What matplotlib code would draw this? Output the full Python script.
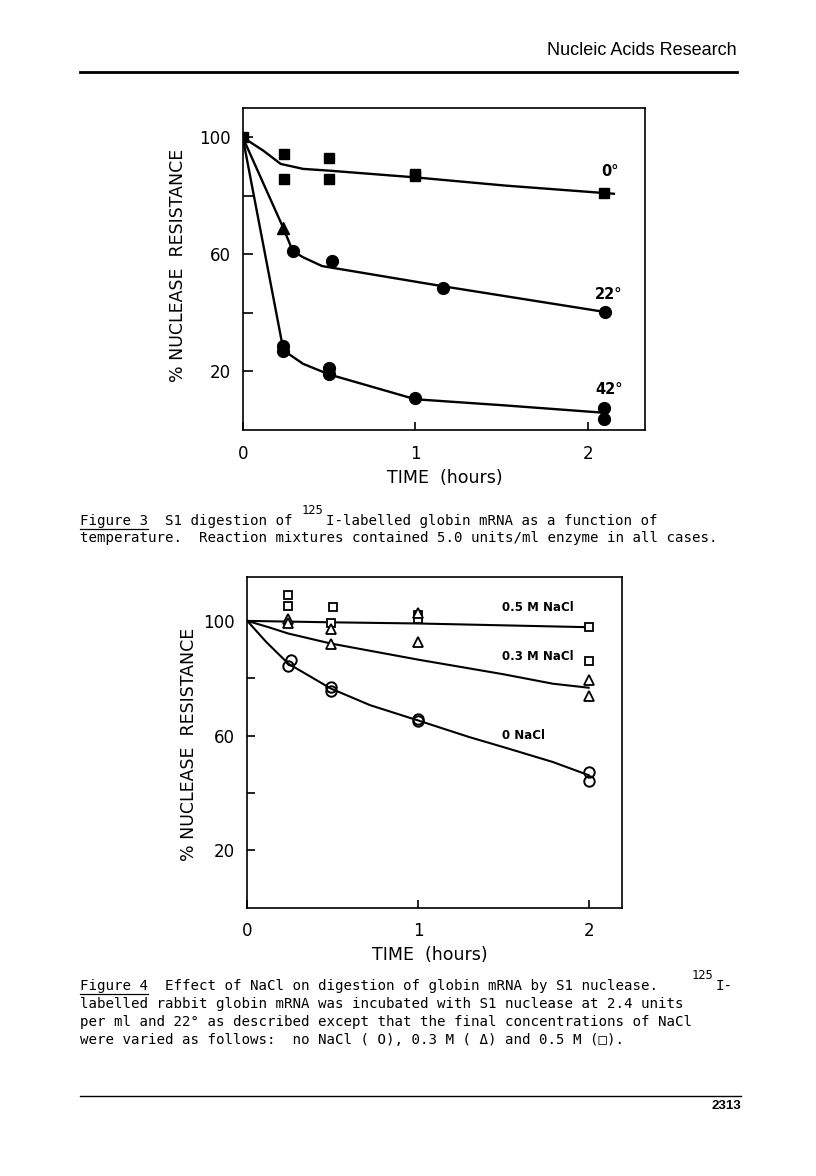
import matplotlib
matplotlib.use("Agg")
import matplotlib.pyplot as plt
from matplotlib.lines import Line2D

W, H = 816, 1176

# ---------------- Figure 3 data (S1 digestion vs temperature) ----------------
f3_0_x = [0, 0.24, 0.24, 0.50, 0.50, 1.00, 1.00, 2.09]
f3_0_y = [100, 94.3, 85.6, 92.8, 85.6, 86.8, 87.4, 81.0]
f3_0_fit_x = [0, 0.12, 0.22, 0.35, 0.50, 1.00, 1.52, 2.15]
f3_0_fit_y = [100, 95.4, 90.9, 89.2, 88.6, 86.3, 83.5, 80.7]

f3_22_tri_x = [0.236]
f3_22_tri_y = [68.9]
f3_22_x = [0.29, 0.52, 1.16, 2.10]
f3_22_y = [61.3, 57.8, 48.6, 40.3]
f3_22_fit_x = [0, 0.236, 0.29, 0.35, 0.46, 1.16, 2.10]
f3_22_fit_y = [100, 68.9, 61.1, 59.0, 56.0, 49.1, 40.3]

f3_42_x = [0.236, 0.236, 0.50, 0.50, 1.00, 2.09, 2.09]
f3_42_y = [28.7, 27.0, 21.3, 19.0, 10.9, 7.5, 3.6]
f3_42_fit_x = [0, 0.236, 0.35, 0.50, 1.00, 1.52, 2.09]
f3_42_fit_y = [100, 27.2, 22.6, 19.0, 10.5, 8.4, 5.9]

f3_labels = ["0°", "22°", "42°"]
f3_label_x = [2.13, 2.12, 2.12]
f3_label_y = [88.4, 46.3, 14.0]

# ---------------- Figure 4 data (effect of NaCl) ----------------
f4_sq_x = [0.24, 0.24, 0.50, 0.49, 1.00, 1.00, 2.00, 2.00]
f4_sq_y = [109.2, 105.2, 104.9, 99.3, 102.0, 100.5, 97.9, 86.0]
f4_tri_x = [0.24, 0.24, 0.49, 0.49, 1.00, 1.00, 2.00, 2.00]
f4_tri_y = [100.6, 99.3, 97.3, 91.9, 102.6, 92.7, 79.5, 73.8]
f4_circ_x = [0.255, 0.24, 0.49, 0.49, 1.00, 1.00, 2.00, 2.00]
f4_circ_y = [86.3, 84.2, 77.0, 75.6, 65.9, 65.1, 47.3, 44.2]

f4_05_fit_x = [0, 0.50, 1.00, 2.00]
f4_05_fit_y = [100, 99.5, 99.1, 97.8]
f4_03_fit_x = [0, 0.13, 0.24, 0.49, 1.00, 1.50, 1.79, 2.00]
f4_03_fit_y = [100, 97.7, 95.6, 92.1, 86.5, 81.4, 78.1, 76.7]
f4_0_fit_x = [0, 0.11, 0.24, 0.49, 0.72, 1.00, 1.30, 1.50, 1.79, 2.00]
f4_0_fit_y = [100, 92.7, 85.1, 76.4, 70.6, 65.3, 59.5, 56.0, 50.8, 46.2]

f4_labels = ["0.5 M NaCl", "0.3 M NaCl", "0 NaCl"]
f4_label_x = [1.49, 1.49, 1.49]
f4_label_y = [104.5, 87.7, 59.9]

yticks = [20, 40, 60, 80, 100]
ytick_labels = ["20", "", "60", "", "100"]
xticks = [0, 1, 2]
xtick_labels = ["0", "1", "2"]


def fx(x):
    return x / W


def fy(y):
    return 1 - y / H


fig = plt.figure(figsize=(W / 100, H / 100), dpi=100)
fig.patch.set_facecolor("white")


def style_axes(ax, xlim, ylim, tlen, ypad, xpad):
    ax.set_xlim(*xlim)
    ax.set_ylim(*ylim)
    for s in ax.spines.values():
        s.set_linewidth(1.2)
    ax.set_yticks(yticks)
    ax.set_yticklabels(ytick_labels)
    ax.set_xticks(xticks)
    ax.set_xticklabels(xtick_labels)
    ax.tick_params(axis="y", direction="in", length=tlen, width=1.2,
                   labelsize=12, pad=ypad)
    ax.tick_params(axis="x", direction="in", length=6, width=1.2,
                   labelsize=12, pad=xpad)


# ---------------- Figure 3 axes ----------------
ax3 = fig.add_axes([fx(242.7), fy(430), (645 - 242.7) / W, (430 - 108) / H])
style_axes(ax3, (0, 2.33), (0, 110), 7, 8.3, 11.0)

lw3 = 1.7
ax3.plot(f3_0_fit_x, f3_0_fit_y, color="black", lw=lw3, zorder=2)
ax3.plot(f3_22_fit_x, f3_22_fit_y, color="black", lw=lw3, zorder=2)
ax3.plot(f3_42_fit_x, f3_42_fit_y, color="black", lw=lw3, zorder=2)
ax3.plot(f3_0_x, f3_0_y, "s", color="black", ms=7.5, zorder=3)
ax3.plot(f3_22_tri_x, f3_22_tri_y, "^", color="black", ms=8, zorder=3)
ax3.plot(f3_22_x, f3_22_y, "o", color="black", ms=8.5, zorder=3)
ax3.plot(f3_42_x, f3_42_y, "o", color="black", ms=8.5, zorder=3)
for t, x, y in zip(f3_labels, f3_label_x, f3_label_y):
    ax3.text(x, y, t, ha="center", va="center", fontsize=10.5, fontweight="bold")

ax3.set_xlabel("TIME  (hours)", fontsize=12.5, va="center")
ax3.xaxis.set_label_coords((445 - 242.7) / 402.3, (430 - 478) / 322)
ax3.set_ylabel("% NUCLEASE  RESISTANCE", fontsize=12.5, va="center")
ax3.yaxis.set_label_coords((178 - 242.7) / 402.3, (430 - 265.5) / 322)

# ---------------- Figure 4 axes ----------------
ax4 = fig.add_axes([fx(247.3), fy(907.7), 375 / W, 330.4 / H])
style_axes(ax4, (0, 2.197), (0, 115.2), 6, 9.0, 10.0)

lw4 = 1.5
ax4.plot(f4_05_fit_x, f4_05_fit_y, color="black", lw=lw4, zorder=2)
ax4.plot(f4_03_fit_x, f4_03_fit_y, color="black", lw=lw4, zorder=2)
ax4.plot(f4_0_fit_x, f4_0_fit_y, color="black", lw=lw4, zorder=2)
ax4.plot(f4_sq_x, f4_sq_y, "s", mfc="white", mec="black", mew=1.3, ms=6, zorder=3)
ax4.plot(f4_tri_x, f4_tri_y, "^", mfc="white", mec="black", mew=1.3, ms=6.5, zorder=3)
ax4.plot(f4_circ_x, f4_circ_y, "o", mfc="none", mec="black", mew=1.4, ms=7.5, zorder=3)
for t, x, y in zip(f4_labels, f4_label_x, f4_label_y):
    ax4.text(x, y, t, ha="left", va="center", fontsize=8.5, fontweight="bold")

ax4.set_xlabel("TIME  (hours)", fontsize=12.5, va="center")
ax4.xaxis.set_label_coords((430 - 247.3) / 375, (907.7 - 955) / 330.4)
ax4.set_ylabel("% NUCLEASE  RESISTANCE", fontsize=12.5, va="center")
ax4.yaxis.set_label_coords((189 - 247.3) / 375, (907.7 - 744) / 330.4)

# ---------------- Page furniture ----------------
fig.text(fx(737), fy(55), "Nucleic Acids Research", ha="right", va="baseline",
         fontsize=13, family="Liberation Sans")
fig.add_artist(Line2D([fx(80), fx(737)], [fy(71.7), fy(71.7)], color="black",
                      lw=2.0, transform=fig.transFigure))
fig.add_artist(Line2D([fx(80), fx(741)], [fy(1095.7), fy(1095.7)], color="black",
                      lw=1.0, transform=fig.transFigure))
fig.text(fx(741), fy(1109), "2313", ha="right", va="baseline", fontsize=9.5,
         fontweight="bold", family="Liberation Sans")

# ---------------- Captions ----------------
CW = 8.47
cap_fs = CW / 0.60205 * 0.72
mono = ["DejaVu Sans Mono"]


def cap(col, y, s, fs=None):
    fig.text(fx(80 + col * CW), fy(y), s, ha="left", va="baseline",
             fontsize=fs or cap_fs, family=mono)


def underline(col0, ncol, y):
    fig.add_artist(Line2D([fx(80 + col0 * CW), fx(80 + (col0 + ncol) * CW)],
                          [fy(y), fy(y)], color="black", lw=0.9,
                          transform=fig.transFigure))


cap(0, 525, "Figure 3  S1 digestion of")
cap(26.2, 514, "125", fs=cap_fs * 0.85)
cap(29, 525, "I-labelled globin mRNA as a function of")
underline(0, 8, 528.5)
cap(0, 542, "temperature.  Reaction mixtures contained 5.0 units/ml enzyme in all cases.")

cap(0, 990, "Figure 4  Effect of NaCl on digestion of globin mRNA by S1 nuclease.")
cap(72.2, 979, "125", fs=cap_fs * 0.85)
cap(75, 990, "I-")
underline(0, 8, 993.5)
cap(0, 1008, "labelled rabbit globin mRNA was incubated with S1 nuclease at 2.4 units")
cap(0, 1026, "per ml and 22° as described except that the final concentrations of NaCl")
cap(0, 1044, "were varied as follows:  no NaCl ( O), 0.3 M ( Δ) and 0.5 M (□).")

fig.savefig("out.png", dpi=100, facecolor="white")
